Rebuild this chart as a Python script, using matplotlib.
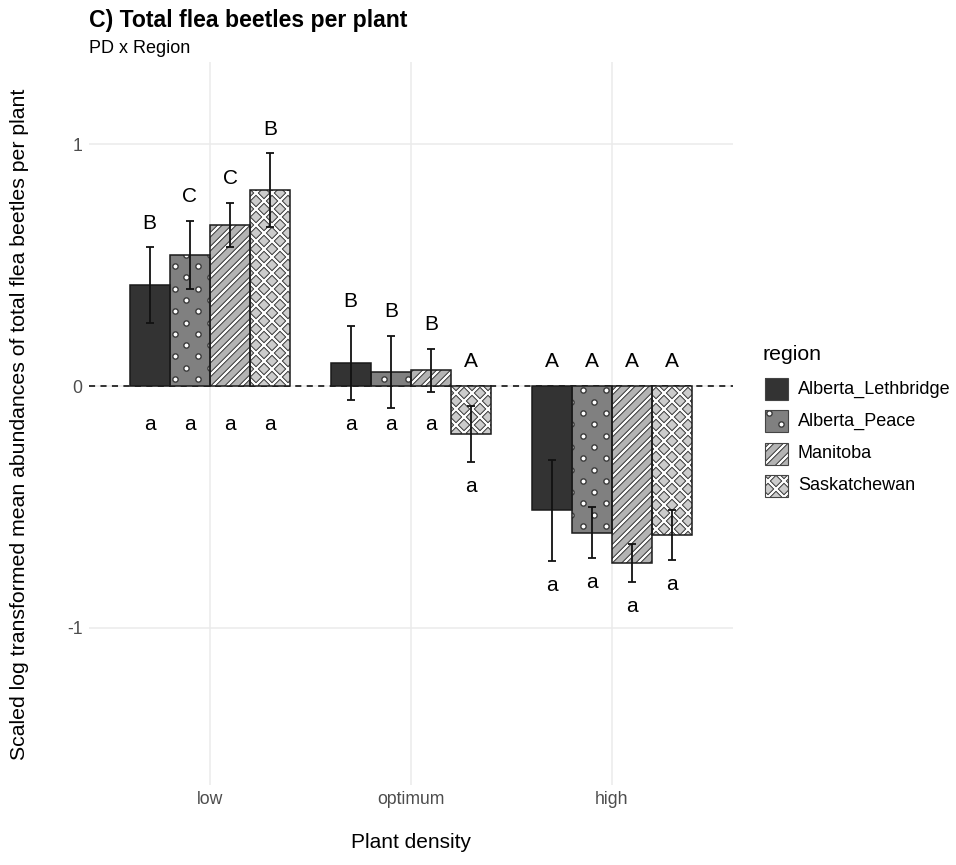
import matplotlib
matplotlib.use('Agg')
import matplotlib.pyplot as plt
import numpy as np
from matplotlib.patches import Rectangle
from matplotlib.collections import LineCollection
from matplotlib.lines import Line2D
from matplotlib.transforms import IdentityTransform

plt.rcParams['font.family'] = ['Liberation Sans', 'DejaVu Sans']

densities = ['low', 'optimum', 'high']
regions = ['Alberta_Lethbridge', 'Alberta_Peace', 'Manitoba', 'Saskatchewan']
# scaled means (rows = plant density, cols = region) and standard errors
means = np.array([[0.417, 0.543, 0.665, 0.809],
                  [0.095, 0.059, 0.065, -0.198],
                  [-0.514, -0.606, -0.733, -0.616]])
ses = np.array([[0.157, 0.140, 0.092, 0.153],
                [0.153, 0.148, 0.088, 0.116],
                [0.210, 0.107, 0.079, 0.103]])
# compact letter displays: upper = between densities, lower = between regions
upper_letters = [['B', 'C', 'C', 'B'],
                 ['B', 'B', 'B', 'A'],
                 ['A', 'A', 'A', 'A']]
lower_letters = [['a', 'a', 'a', 'a'],
                 ['a', 'a', 'a', 'a'],
                 ['a', 'a', 'a', 'a']]

fills = ['#333333', '#808080', '#b3b3b3', '#cccccc']
patterns = [None, 'dots', 'stripes', 'crosshatch']
EDGE = '#1a1a1a'
W, H = 956, 865


def add_pattern(ax, patch, kind):
    """Overlay a ggpattern-like fill (in pixel space) clipped to patch."""
    if kind is None:
        return
    bb = patch.get_window_extent()
    x0, y0, x1, y1 = bb.x0, bb.y0, bb.x1, bb.y1
    if kind == 'dots':
        row_gap, col_gap = 11.3, 23.3
        xs, ys = [], []
        for j in range(int(np.floor(y0 / row_gap)) - 1, int(np.ceil(y1 / row_gap)) + 2):
            shift = col_gap / 2 if j % 2 else 0
            for i in range(int(np.floor(x0 / col_gap)) - 1, int(np.ceil(x1 / col_gap)) + 2):
                xs.append(i * col_gap + shift)
                ys.append(j * row_gap)
        dots = Line2D(xs, ys, ls='none', marker='o', ms=3.8, mfc='white',
                      mec='#3a3a3a', mew=1.0, transform=IdentityTransform(), zorder=2.5)
        ax.add_artist(dots)
        dots.set_clip_path(patch)
        return
    gap = 14 if kind == 'stripes' else 16
    dirs = [1] if kind == 'stripes' else [1, -1]
    segs = []
    for d in dirs:
        cs = [y0 - d * x0, y0 - d * x1, y1 - d * x0, y1 - d * x1]
        for k in range(int(np.floor(min(cs) / gap)) - 1, int(np.ceil(max(cs) / gap)) + 2):
            c = k * gap
            segs.append([(x0 - 5, d * (x0 - 5) + c), (x1 + 5, d * (x1 + 5) + c)])
    for color, lw in [('#262626', 3.0), ('white', 1.7)]:
        lc = LineCollection(segs, colors=color, linewidths=lw,
                            transform=IdentityTransform(), zorder=2.5)
        ax.add_artist(lc)
        lc.set_clip_path(patch)


fig = plt.figure(figsize=(W / 100, H / 100), dpi=100)
fig.patch.set_facecolor('white')

ax = fig.add_axes([89.4 / W, 80 / H, (732.6 - 89.4) / W, 723 / H])
ax.set_xlim(0.4, 3.6)
ax.set_ylim(-1.65, 1.34)
for s in ax.spines.values():
    s.set_visible(False)
ax.set_xticks([1, 2, 3], densities)
ax.set_yticks([-1, 0, 1], ['-1', '0', '1'])
ax.tick_params(length=0, labelsize=12.7, labelcolor='#4d4d4d')
ax.tick_params(axis='y', pad=5)
ax.tick_params(axis='x', pad=4)
ax.grid(color='#ebebeb', lw=1.1)
ax.set_axisbelow(True)
ax.axhline(0, color='black', lw=1.1, ls=(0, (4, 3.5)), zorder=1.5)

bw = 0.2
for g in range(len(densities)):
    for r in range(len(regions)):
        x = g + 1 + (r - 1.5) * bw
        m, se = means[g, r], ses[g, r]
        bar = ax.bar(x, m, width=bw, color=fills[r], edgecolor='none', zorder=2)[0]
        add_pattern(ax, bar, patterns[r])
        ax.add_patch(Rectangle(bar.get_xy(), bar.get_width(), bar.get_height(),
                               fill=False, edgecolor=EDGE, lw=1.1, zorder=3))
        ax.errorbar(x, m, yerr=se, fmt='none', ecolor='#111111', elinewidth=1.3,
                    capsize=2.8, capthick=1.3, zorder=4)
        top = (m + se if m > 0 else 0) + 0.1
        bottom = m - se - 0.1 if m < 0 else -0.16
        ax.text(x, top, upper_letters[g][r], ha='center', va='center', fontsize=15, zorder=5)
        ax.text(x, bottom, lower_letters[g][r], ha='center', va='center', fontsize=15, zorder=5)

# overlay in pixel coordinates for titles and the legend
ov = fig.add_axes([0, 0, 1, 1])
ov.set_xlim(0, W)
ov.set_ylim(H, 0)
ov.axis('off')

ov.text(89, 27, 'C) Total flea beetles per plant', fontsize=16.6, fontweight='bold', va='baseline')
ov.text(89, 53, 'PD x Region', fontsize=13, va='baseline')
ov.text(20, 424, 'Scaled log transformed mean abundances of total flea beetles per plant',
        rotation=90, ha='center', va='center', fontsize=15.3)
ov.text(411, 848, 'Plant density', ha='center', va='baseline', fontsize=15)

ov.text(763, 355, 'region', ha='left', va='center', fontsize=15.3)
key_y = [389, 421, 454, 486]
for r, name in enumerate(regions):
    key = Rectangle((765, key_y[r] - 11), 23, 22, facecolor=fills[r], edgecolor='none', zorder=2)
    ov.add_patch(key)
    add_pattern(ov, key, patterns[r])
    ov.add_patch(Rectangle((765, key_y[r] - 11), 23, 22, fill=False, edgecolor='#444444',
                           lw=0.8, zorder=3))
    ov.text(798, key_y[r], name, ha='left', va='center', fontsize=13)

fig.savefig('out.png', dpi=100)
